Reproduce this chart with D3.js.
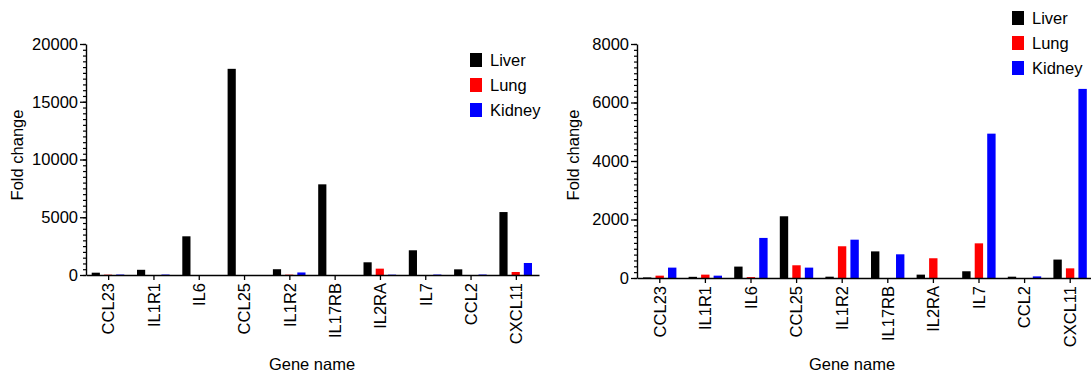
<!DOCTYPE html>
<html>
<head>
<meta charset="utf-8">
<script src="https://cdn.jsdelivr.net/npm/d3@7"></script>
<style>
  html, body { margin: 0; padding: 0; background: #fff; }
  svg { display: block; }
  text { font-family: "Liberation Sans", Arial, Helvetica, sans-serif; fill: #000; }
</style>
</head>
<body>
<svg id="chart" width="1091" height="375"></svg>
<script>
// ---------- data ----------
const genes = ["CCL23", "IL1R1", "IL6", "CCL25", "IL1R2", "IL17RB", "IL2RA", "IL7", "CCL2", "CXCL11"];
const series = ["Liver", "Lung", "Kidney"];
const seriesColors = ["#000000", "#ff0000", "#0000ff"];

// left panel
const leftLiver  = [200, 450, 3350, 17850, 500, 7850, 1100, 2140, 490, 5450];
const leftLung   = [30, 0, 0, 0, 30, 0, 550, 0, 0, 260];
const leftKidney = [40, 40, 0, 0, 220, 0, 30, 40, 40, 1040];
const leftTicks  = [0, 5000, 10000, 15000, 20000];

// right panel
const rightLiver  = [20, 40, 390, 2110, 45, 910, 115, 230, 45, 630];
const rightLung   = [80, 115, 30, 435, 1085, 0, 675, 1185, 0, 330];
const rightKidney = [355, 80, 1370, 355, 1310, 810, 0, 4935, 55, 6465];
const rightTicks  = [0, 2000, 4000, 6000, 8000];

const FS = 16.5;
const svg = d3.select("#chart");

function panel(opts) {
  const g = svg.append("g");
  const x0 = d3.scaleBand().domain(genes).range([opts.x, opts.x + opts.step * genes.length]).padding(0);
  const x1 = d3.scaleBand().domain(series).range([opts.inner0, opts.inner1]).paddingInner(0.33).paddingOuter(0);
  const y = d3.scaleLinear().domain([0, opts.max]).range([opts.y0, opts.y1]);

  const data = [opts.liver, opts.lung, opts.kidney];

  // bars
  genes.forEach((gname, i) => {
    series.forEach((s, j) => {
      const v = data[j][i];
      if (v <= 0) return;
      g.append("rect")
        .attr("x", x0(gname) + x1(s))
        .attr("y", y(v))
        .attr("width", x1.bandwidth())
        .attr("height", Math.max(0, opts.y0 - y(v)))
        .attr("fill", seriesColors[j]);
    });
  });

  // y axis: minor ticks
  const minor = d3.range(0, opts.max + 1e-9, opts.max / 40);
  const yAxisMinor = d3.axisLeft(y).tickValues(minor).tickSize(3).tickFormat("");
  const gm = g.append("g").attr("transform", `translate(${opts.x},0)`).call(yAxisMinor);
  gm.select(".domain").remove();
  gm.selectAll("line").attr("stroke", "#000").attr("stroke-width", 1.2);

  const yAxis = d3.axisLeft(y).tickValues(opts.ticks).tickSize(6).tickPadding(2).tickSizeOuter(0).tickFormat(d3.format("d"));
  const gy = g.append("g").attr("transform", `translate(${opts.x},0)`).call(yAxis);
  gy.select(".domain").attr("stroke", "#000").attr("stroke-width", 1.4);
  gy.selectAll("line").attr("stroke", "#000").attr("stroke-width", 1.3);
  gy.selectAll("text").attr("font-size", FS).attr("fill", "#000")
    .style("font-family", '"Liberation Sans", Arial, sans-serif');

  // x axis
  const xAxis = d3.axisBottom(x0).tickSize(5).tickPadding(4).tickSizeOuter(0);
  const gx = g.append("g").attr("transform", `translate(0,${opts.y0})`).call(xAxis);
  gx.select(".domain").attr("stroke", "#000").attr("stroke-width", 1.4);
  gx.selectAll("line").attr("stroke", "#000").attr("stroke-width", 1.3);
  gx.selectAll("text")
    .attr("font-size", FS).attr("fill", "#000")
    .style("font-family", '"Liberation Sans", Arial, sans-serif')
    .attr("transform", "rotate(-90)")
    .attr("text-anchor", "end")
    .attr("x", -8)
    .attr("y", 0)
    .attr("dy", "0.35em");

  // axis titles
  g.append("text")
    .attr("transform", `translate(${opts.ytx},${opts.yty}) rotate(-90)`)
    .attr("text-anchor", "middle")
    .attr("font-size", FS)
    .text("Fold change");
  g.append("text")
    .attr("x", opts.xtx).attr("y", 370)
    .attr("text-anchor", "middle")
    .attr("font-size", FS)
    .text("Gene name");

  // legend
  const lg = g.append("g").attr("transform", `translate(${opts.lx},${opts.ly})`);
  series.forEach((s, j) => {
    lg.append("rect").attr("x", 0).attr("y", j * 25).attr("width", 12).attr("height", 14)
      .attr("fill", seriesColors[j]);
    lg.append("text").attr("x", 20).attr("y", j * 25 + 13).attr("font-size", FS).text(s);
  });
}

panel({
  x: 86, step: 45.3, inner0: 5.7, inner1: 38.3,
  y0: 275, y1: 44, max: 20000, ticks: leftTicks,
  liver: leftLiver, lung: leftLung, kidney: leftKidney,
  ytx: 23, yty: 155, xtx: 312, lx: 470, ly: 53
});

panel({
  x: 637, step: 45.6, inner0: 6, inner1: 39.4,
  y0: 278, y1: 44, max: 8000, ticks: rightTicks,
  liver: rightLiver, lung: rightLung, kidney: rightKidney,
  ytx: 579, yty: 155, xtx: 852, lx: 1012, ly: 11
});
</script>
</body>
</html>
